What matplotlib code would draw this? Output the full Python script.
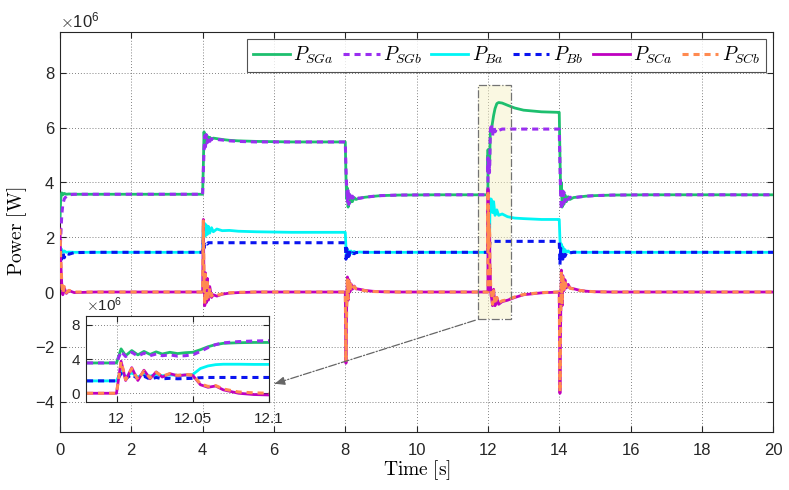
import numpy as np
import matplotlib
matplotlib.use("Agg")
import matplotlib.pyplot as plt
from matplotlib.patches import Rectangle
from matplotlib.ticker import ScalarFormatter

plt.rcParams['font.family'] = ['Liberation Sans', 'DejaVu Sans']
plt.rcParams['mathtext.fontset'] = 'cm'
plt.rcParams['axes.unicode_minus'] = False

# time [s], segments around the events at 0, 4, 8, 12 and 14 s
t = [0, 0.02, 0.05, 0.08, 0.12, 0.18, 0.25, 0.4, 1.0, 3.99,
     4.0, 4.02, 4.04, 4.06, 4.08, 4.10, 4.13, 4.16, 4.2, 4.25, 4.3, 4.4, 4.55, 4.75, 5.0, 5.5, 6.5, 7.99,
     8.0, 8.02, 8.04, 8.06, 8.08, 8.10, 8.13, 8.16, 8.2, 8.25, 8.3, 8.4, 8.55, 8.75, 9.0, 9.5, 10.5, 11.99,
     12.0, 12.003, 12.006, 12.01, 12.014, 12.018, 12.022, 12.026, 12.03, 12.035,
     12.04, 12.045, 12.05, 12.055, 12.06, 12.065, 12.07, 12.08, 12.09, 12.1,
     12.13, 12.16, 12.2, 12.25, 12.3, 12.4, 12.55, 12.75, 13.0, 13.5, 13.99,
     14.0, 14.02, 14.04, 14.06, 14.08, 14.10, 14.13, 14.16, 14.2, 14.25, 14.3, 14.4, 14.55, 14.75, 15.0, 15.5, 16.5, 20.0]

# power values in MW
p_sga = [2.6, 3.4, 3.62, 3.55, 3.6, 3.57, 3.58, 3.57, 3.57, 3.57,
         3.57, 4.6, 5.85, 5.4, 5.75, 5.5, 5.7, 5.55, 5.65, 5.58, 5.62, 5.6, 5.57, 5.54, 5.52, 5.5, 5.48, 5.48,
         5.48, 4.2, 3.4, 3.8, 3.1, 3.6, 3.25, 3.5, 3.3, 3.45, 3.38, 3.43, 3.46, 3.49, 3.52, 3.54, 3.55, 3.55,
         3.55, 5.2, 4.4, 5.0, 4.5, 4.9, 4.55, 4.85, 4.6, 4.8,
         4.65, 4.75, 4.8, 5.1, 5.45, 5.7, 5.85, 5.92, 5.95, 5.95,
         6.2, 6.45, 6.7, 6.88, 6.92, 6.9, 6.82, 6.72, 6.64, 6.58, 6.56,
         6.56, 5.0, 3.6, 4.0, 3.1, 3.7, 3.2, 3.55, 3.3, 3.48, 3.38, 3.45, 3.47, 3.5, 3.52, 3.54, 3.55, 3.55]
p_sgb = [1.3, 2.0, 2.8, 3.2, 3.4, 3.5, 3.55, 3.57, 3.57, 3.57,
         3.57, 4.4, 5.2, 5.7, 5.3, 5.75, 5.45, 5.65, 5.5, 5.6, 5.55, 5.57, 5.55, 5.52, 5.5, 5.48, 5.48, 5.48,
         5.48, 4.5, 3.8, 3.3, 3.7, 3.2, 3.55, 3.3, 3.5, 3.38, 3.45, 3.42, 3.46, 3.49, 3.52, 3.54, 3.55, 3.55,
         3.55, 4.9, 4.3, 4.8, 4.35, 4.7, 4.4, 4.6, 4.4, 4.5,
         4.35, 4.4, 4.5, 4.9, 5.35, 5.7, 5.9, 6.05, 6.12, 6.15,
         5.7, 6.05, 5.85, 5.97, 5.9, 5.95, 5.95, 5.95, 5.95, 5.95, 5.95,
         5.95, 4.6, 3.5, 3.0, 3.8, 3.2, 3.65, 3.3, 3.5, 3.38, 3.46, 3.44, 3.47, 3.5, 3.52, 3.54, 3.55, 3.55]
p_ba = [1.2, 1.6, 1.55, 1.45, 1.5, 1.45, 1.46, 1.45, 1.45, 1.45,
        1.45, 2.55, 2.0, 2.5, 2.05, 2.45, 2.1, 2.4, 2.15, 2.35, 2.2, 2.3, 2.24, 2.25, 2.22, 2.2, 2.18, 2.18,
        2.18, 1.6, 1.3, 1.55, 1.35, 1.5, 1.4, 1.5, 1.42, 1.48, 1.44, 1.46, 1.45, 1.45, 1.45, 1.45, 1.45, 1.45,
        1.45, 2.6, 1.9, 2.4, 1.9, 2.3, 2.0, 2.2, 2.05, 2.15,
        2.1, 2.12, 2.2, 2.9, 3.2, 3.35, 3.4, 3.4, 3.38, 3.38,
        2.9, 3.3, 2.8, 3.0, 2.8, 2.85, 2.75, 2.7, 2.68, 2.65, 2.65,
        2.65, 1.9, 1.6, 1.75, 1.45, 1.65, 1.45, 1.55, 1.45, 1.5, 1.44, 1.46, 1.45, 1.45, 1.45, 1.45, 1.45, 1.45]
p_bb = [0.9, 1.5, 1.2, 1.45, 1.25, 1.42, 1.38, 1.44, 1.45, 1.45,
        1.45, 1.9, 1.6, 1.75, 1.7, 1.78, 1.75, 1.8, 1.8, 1.8, 1.8, 1.8, 1.8, 1.8, 1.8, 1.8, 1.8, 1.8,
        1.8, 1.2, 1.6, 1.25, 1.5, 1.3, 1.45, 1.35, 1.43, 1.4, 1.44, 1.45, 1.45, 1.45, 1.45, 1.45, 1.45, 1.45,
        1.45, 2.3, 1.7, 2.2, 1.7, 2.0, 1.65, 1.85, 1.7, 1.75,
        1.7, 1.72, 1.75, 1.82, 1.85, 1.85, 1.85, 1.85, 1.85, 1.85,
        1.85, 1.85, 1.85, 1.85, 1.85, 1.85, 1.85, 1.85, 1.85, 1.85, 1.85,
        1.85, 1.0, 1.6, 1.1, 1.5, 1.2, 1.4, 1.3, 1.42, 1.38, 1.43, 1.45, 1.45, 1.45, 1.45, 1.45, 1.45, 1.45]
p_sca = [2.3, 1.2, 0.3, -0.1, 0.15, -0.05, 0.05, -0.02, 0.0, 0.0,
         0.0, 2.65, 0.3, -0.5, 0.7, -0.4, 0.5, -0.3, 0.2, -0.2, -0.1, -0.15, -0.08, -0.04, -0.02, 0.0, 0.0, 0.0,
         0.0, -2.6, -0.5, 0.55, -0.3, 0.45, 0.0, 0.3, 0.1, 0.22, 0.12, 0.1, 0.06, 0.03, 0.01, 0.0, 0.0, 0.0,
         0.0, 3.75, 1.5, 3.0, 1.5, 2.7, 1.7, 2.5, 1.9, 2.3,
         2.05, 2.15, 2.1, 1.0, 0.7, 0.85, 0.4, 0.0, -0.15, -0.2,
         -0.5, 0.1, -0.5, -0.2, -0.45, -0.35, -0.3, -0.2, -0.1, -0.03, 0.0,
         0.0, -3.7, -1.0, 0.8, -0.5, 0.6, 0.05, 0.45, 0.15, 0.28, 0.15, 0.12, 0.07, 0.03, 0.01, 0.0, 0.0, 0.0]
p_scb = [2.3, 1.3, 0.35, -0.05, 0.2, -0.02, 0.06, 0.0, 0.0, 0.0,
         0.0, 2.6, 0.4, -0.45, 0.65, -0.35, 0.45, -0.25, 0.15, -0.15, -0.08, -0.12, -0.07, -0.03, -0.01, 0.0, 0.0, 0.0,
         0.0, -2.55, -0.6, 0.5, -0.25, 0.4, 0.05, 0.28, 0.12, 0.2, 0.12, 0.09, 0.05, 0.02, 0.01, 0.0, 0.0, 0.0,
         0.0, 3.7, 1.6, 2.9, 1.6, 2.6, 1.8, 2.45, 2.0, 2.3,
         2.1, 2.2, 2.15, 1.1, 0.8, 0.9, 0.5, 0.15, 0.05, 0.0,
         -0.45, 0.05, -0.45, -0.2, -0.4, -0.32, -0.28, -0.18, -0.09, -0.02, 0.0,
         0.0, -3.65, -1.1, 0.75, -0.45, 0.55, 0.1, 0.4, 0.15, 0.25, 0.14, 0.11, 0.06, 0.03, 0.01, 0.0, 0.0, 0.0]

labels = [r'$P_{SGa}$', r'$P_{SGb}$', r'$P_{Ba}$', r'$P_{Bb}$', r'$P_{SCa}$', r'$P_{SCb}$']
series = [p_sga, p_sgb, p_ba, p_bb, p_sca, p_scb]
colors = ['#1dbf6e', '#9a2ef0', '#00f5f5', '#0a14f0', '#bf00c0', '#ff8a50']
styles = ['-', '--', '-', '--', '-', '--']

# zoom window
win_x = [11.72, 12.64]
win_y = [-1.0, 7.55]

frame_col = '#262626'


def style_axes(a, fs, xpad):
    a.tick_params(direction='in', top=True, right=True, labelsize=fs, colors=frame_col,
                  length=4, width=0.8)
    a.tick_params(axis='x', pad=xpad)
    for s in a.spines.values():
        s.set_color(frame_col)
        s.set_linewidth(0.8)
    a.grid(True, color='0.35', linestyle=(0, (1, 2.5)), linewidth=0.6)
    fmt = ScalarFormatter(useMathText=True)
    fmt.set_powerlimits((0, 0))
    a.yaxis.set_major_formatter(fmt)
    a.yaxis.get_offset_text().set_fontsize(fs)


fig = plt.figure(figsize=(7.89, 4.90), dpi=100)
ax = fig.add_axes([0.076, 0.119, 0.904, 0.816])

tt = np.array(t)
for y, c, ls, lab in zip(series, colors, styles, labels):
    if ls == '--':
        ax.plot(tt, np.array(y) * 1e6, color=c, lw=2.2, linestyle=(0, (2.0, 1.6)), label=lab, zorder=3)
    else:
        ax.plot(tt, np.array(y) * 1e6, color=c, lw=2.0, label=lab, zorder=3)

ax.add_patch(Rectangle((win_x[0], win_y[0] * 1e6), win_x[1] - win_x[0], (win_y[1] - win_y[0]) * 1e6,
                       facecolor='#f6f0c0', alpha=0.45, edgecolor='none', zorder=2))
ax.add_patch(Rectangle((win_x[0], win_y[0] * 1e6), win_x[1] - win_x[0], (win_y[1] - win_y[0]) * 1e6,
                       fill=False, edgecolor='0.45', linestyle='-.', linewidth=0.9, zorder=4))

ax.set_xlim(0, 20)
ax.set_ylim(-5.1e6, 9.5e6)
ax.set_xticks(np.arange(0, 21, 2))
ax.set_yticks(np.arange(-4, 9, 2) * 1e6)
style_axes(ax, 12, 8)
ax.set_xlabel(r'$\mathrm{Time\ [s]}$', fontsize=14, labelpad=0)
ax.set_ylabel(r'$\mathrm{Power\ [W]}$', fontsize=14, labelpad=4)

leg = ax.legend(loc='upper right', ncol=6, fontsize=14, frameon=True, fancybox=False,
                handlelength=1.9, handletextpad=0.2, columnspacing=0.45,
                borderpad=0.3, borderaxespad=0.35)
leg.get_frame().set_edgecolor(frame_col)
leg.get_frame().set_linewidth(0.8)

# inset
axin = fig.add_axes([0.109, 0.180, 0.232, 0.176])
for y, c, ls in zip(series, colors, styles):
    if ls == '--':
        axin.plot(tt, np.array(y) * 1e6, color=c, lw=2.2, linestyle=(0, (2.0, 1.6)))
    else:
        axin.plot(tt, np.array(y) * 1e6, color=c, lw=2.0)
axin.set_xlim(11.98, 12.1)
axin.set_ylim(-1.0e6, 9.1e6)
axin.set_xticks([12, 12.05, 12.1])
axin.set_xticklabels(['12', '12.05', '12.1'])
axin.set_yticks([0, 4e6, 8e6])
style_axes(axin, 11, 7)

# arrow from zoom window to inset
ax.annotate('', xy=(1.016, 0.2), xycoords=axin.transAxes,
            xytext=(win_x[0], win_y[0] * 1e6), textcoords='data',
            arrowprops=dict(arrowstyle='-', linestyle='-.', color='0.4', lw=0.9))
ax.annotate('', xy=(1.016, 0.2), xycoords=axin.transAxes,
            xytext=(9, 2.7), textcoords='offset points',
            arrowprops=dict(arrowstyle='-|>,head_length=0.6,head_width=0.25', color='0.4', lw=0.9))

fig.savefig('out.png', dpi=100)
